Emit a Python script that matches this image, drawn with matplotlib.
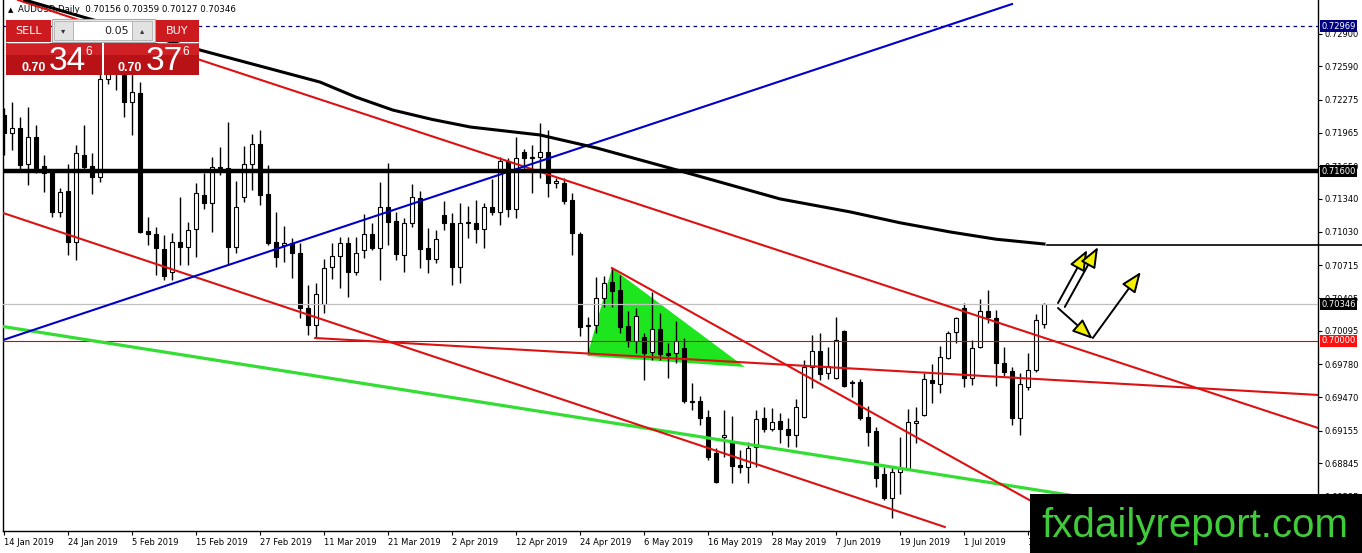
import matplotlib
matplotlib.use("Agg")
import matplotlib.pyplot as plt
from matplotlib import transforms
from matplotlib.patches import Rectangle, Polygon
import numpy as np

# AUDUSD daily bars, 14 Jan 2019 .. 15 Jul 2019
opens = [
    0.72131, 0.71961, 0.72009, 0.71669, 0.71924, 0.71650, 0.71584, 0.71217, 0.71415, 0.70934,
    0.71754, 0.71650, 0.71547, 0.72471, 0.72631, 0.72574, 0.72254, 0.72339, 0.71037, 0.71009,
    0.70868, 0.70651, 0.70934, 0.70886, 0.71056, 0.71377, 0.71301, 0.71631, 0.71631, 0.70886,
    0.71358, 0.71669, 0.71858, 0.71386, 0.70934, 0.70905, 0.70924, 0.70830, 0.70311, 0.70151,
    0.70349, 0.70698, 0.70802, 0.70924, 0.70651, 0.70858, 0.71009, 0.70877, 0.71264, 0.71132,
    0.70811, 0.71113, 0.71349, 0.70877, 0.70773, 0.71188, 0.71113, 0.70698, 0.71113, 0.71113,
    0.71056, 0.71264, 0.71217, 0.71697, 0.71245, 0.71782, 0.71735, 0.71735, 0.71782, 0.71490,
    0.71490, 0.71330, 0.71009, 0.70141, 0.70151, 0.70406, 0.70556, 0.70481, 0.70141, 0.70000,
    0.70038, 0.69896, 0.70113, 0.69887, 0.69887, 0.69934, 0.69434, 0.69434, 0.69283, 0.68944,
    0.69095, 0.69048, 0.68831, 0.68812, 0.69000, 0.69274, 0.69170, 0.69246, 0.69170, 0.69114,
    0.69283, 0.69755, 0.69906, 0.69698, 0.69651, 0.70094, 0.69613, 0.69613, 0.69283, 0.69151,
    0.68746, 0.68519, 0.68765, 0.68793, 0.69227, 0.69302, 0.69632, 0.69595, 0.69840, 0.70085,
    0.70311, 0.69651, 0.69943, 0.70283, 0.70217, 0.69793, 0.69717, 0.69274, 0.69566, 0.69727,
    0.70156]
highs = [
    0.72197, 0.72254, 0.72112, 0.72207, 0.72037, 0.71754, 0.71594, 0.71443, 0.71669, 0.71848,
    0.72037, 0.71773, 0.72537, 0.72933, 0.72791, 0.72744, 0.72969, 0.72442, 0.71169, 0.71075,
    0.71000, 0.71018, 0.71358, 0.71122, 0.71490, 0.71584, 0.71735, 0.71829, 0.72065, 0.71509,
    0.71839, 0.71952, 0.71990, 0.71660, 0.71217, 0.71084, 0.70971, 0.70924, 0.70528, 0.70547,
    0.70773, 0.70924, 0.70981, 0.70981, 0.70981, 0.71198, 0.71113, 0.71499, 0.71679, 0.71217,
    0.71160, 0.71481, 0.71415, 0.71066, 0.71047, 0.71320, 0.71207, 0.71301, 0.71273, 0.71330,
    0.71301, 0.71528, 0.71735, 0.71726, 0.71924, 0.71811, 0.71848, 0.72056, 0.71990, 0.71537,
    0.71537, 0.71396, 0.71028, 0.70226, 0.70604, 0.70613, 0.70688, 0.70622, 0.70283, 0.70311,
    0.70075, 0.70462, 0.70264, 0.69981, 0.70189, 0.70028, 0.69604, 0.69481, 0.69349, 0.68991,
    0.69349, 0.69293, 0.68972, 0.69048, 0.69349, 0.69378, 0.69368, 0.69321, 0.69274, 0.69453,
    0.69821, 0.70057, 0.70075, 0.69943, 0.70226, 0.70100, 0.69632, 0.69642, 0.69387, 0.69189,
    0.68812, 0.68812, 0.69095, 0.69359, 0.69378, 0.69698, 0.69783, 0.69953, 0.70094, 0.70226,
    0.70358, 0.70009, 0.70396, 0.70481, 0.70292, 0.69943, 0.69755, 0.69698, 0.69887, 0.70255,
    0.70359]
lows = [
    0.71754, 0.71801, 0.71613, 0.71471, 0.71584, 0.71405, 0.71169, 0.71169, 0.70811, 0.70764,
    0.71613, 0.71386, 0.71499, 0.72424, 0.72367, 0.72112, 0.71943, 0.71020, 0.70905, 0.70622,
    0.70575, 0.70575, 0.70717, 0.70717, 0.70792, 0.71245, 0.71028, 0.71565, 0.70717, 0.70830,
    0.71311, 0.71424, 0.71283, 0.70905, 0.70698, 0.70745, 0.70594, 0.70217, 0.70057, 0.70038,
    0.70264, 0.70585, 0.70500, 0.70415, 0.70622, 0.70783, 0.70858, 0.70575, 0.70905, 0.70764,
    0.70651, 0.71075, 0.70688, 0.70641, 0.70736, 0.71047, 0.70528, 0.70547, 0.70971, 0.70924,
    0.70877, 0.71188, 0.71094, 0.71169, 0.71160, 0.71613, 0.71396, 0.71537, 0.71358, 0.71443,
    0.71292, 0.70811, 0.70047, 0.69887, 0.70075, 0.70321, 0.70321, 0.70075, 0.69943, 0.69887,
    0.69632, 0.69821, 0.69821, 0.69651, 0.69793, 0.69415, 0.69349, 0.69208, 0.68878, 0.68661,
    0.68906, 0.68661, 0.68755, 0.68661, 0.68812, 0.69142, 0.69151, 0.69038, 0.69000, 0.69000,
    0.69270, 0.69557, 0.69632, 0.69642, 0.69640, 0.69566, 0.69472, 0.69255, 0.69010, 0.68623,
    0.68501, 0.68331, 0.68557, 0.68784, 0.69038, 0.69290, 0.69415, 0.69510, 0.69830, 0.69981,
    0.69566, 0.69585, 0.69935, 0.70170, 0.69576, 0.69670, 0.69208, 0.69114, 0.69538, 0.69708,
    0.70127]
closes = [
    0.71961, 0.72009, 0.71660, 0.71924, 0.71631, 0.71584, 0.71217, 0.71405, 0.70934, 0.71773,
    0.71641, 0.71547, 0.72471, 0.72631, 0.72574, 0.72254, 0.72348, 0.71028, 0.71009, 0.70877,
    0.70613, 0.70934, 0.70886, 0.71047, 0.71396, 0.71301, 0.71641, 0.71641, 0.70886, 0.71264,
    0.71669, 0.71858, 0.71377, 0.70924, 0.70792, 0.70924, 0.70830, 0.70311, 0.70151, 0.70443,
    0.70688, 0.70802, 0.70924, 0.70651, 0.70830, 0.71009, 0.70877, 0.71264, 0.71122, 0.70820,
    0.71113, 0.71358, 0.70868, 0.70773, 0.70962, 0.71113, 0.70698, 0.71113, 0.71120, 0.71056,
    0.71264, 0.71217, 0.71697, 0.71245, 0.71726, 0.71726, 0.71730, 0.71782, 0.71490, 0.71509,
    0.71320, 0.71018, 0.70132, 0.70151, 0.70406, 0.70547, 0.70472, 0.70132, 0.70009, 0.70236,
    0.69887, 0.70113, 0.69877, 0.69868, 0.70000, 0.69434, 0.69425, 0.69274, 0.68906, 0.68670,
    0.69114, 0.68821, 0.68812, 0.68991, 0.69264, 0.69170, 0.69236, 0.69170, 0.69114, 0.69378,
    0.69755, 0.69906, 0.69689, 0.69764, 0.70009, 0.69576, 0.69604, 0.69274, 0.69142, 0.68708,
    0.68519, 0.68765, 0.68802, 0.69236, 0.69246, 0.69642, 0.69604, 0.69849, 0.70075, 0.70217,
    0.69651, 0.69934, 0.70283, 0.70226, 0.69793, 0.69708, 0.69274, 0.69595, 0.69727, 0.70198,
    0.70346]

date_labels = ["14 Jan 2019", "24 Jan 2019", "5 Feb 2019", "15 Feb 2019", "27 Feb 2019",
               "11 Mar 2019", "21 Mar 2019", "2 Apr 2019", "12 Apr 2019", "24 Apr 2019",
               "6 May 2019", "16 May 2019", "28 May 2019", "7 Jun 2019", "19 Jun 2019",
               "1 Jul 2019", "11 Jul 2019"]
price_ticks = [0.72900, 0.72590, 0.72275, 0.71965, 0.71650, 0.71340, 0.71030, 0.70715,
               0.70405, 0.70095, 0.69780, 0.69470, 0.69155, 0.68845, 0.68535]

# moving average (bar index, price)
ma_x = [2.6, 9.9, 24.5, 39.5, 44.0, 48.6, 53.5, 58.3, 67.0, 74.1, 84.1, 89.5, 97.0,
        105.8, 112.0, 118.3, 124.0, 130.0]
ma_y = [0.73216, 0.73055, 0.72744, 0.72442, 0.72300, 0.72178, 0.72090, 0.72018, 0.71943,
        0.71820, 0.71613, 0.71499, 0.71340, 0.71217, 0.71115, 0.71028, 0.70960, 0.70915]

# drawn objects (bar index, price)
red_upper = [(1.75, 0.73216), (164.25, 0.69180)]
red_lower = [(-0.5, 0.71217), (117.6, 0.68246)]
red_flat = [(38.9, 0.70028), (164.25, 0.69491)]
red_steep = [(76.0, 0.70688), (134.9, 0.68218)]
blue_line = [(-0.125, 0.70009), (126.0, 0.73178)]
green_line = [(-0.5, 0.70141), (137.0, 0.68501)]
triangle = [(76.0, 0.70688), (72.9, 0.69859), (92.6, 0.69755)]
arrows = [((131.75, 0.70358), (135.4, 0.70858)),
          ((132.6, 0.70321), (136.75, 0.70886)),
          ((131.75, 0.70311), (136.1, 0.70019)),
          ((136.1, 0.70028), (142.1, 0.70651))]
level_black = 0.71600
level_709 = 0.70905
level_red = 0.70000
level_bid = 0.70346
level_high = 0.72969

W, H = 1362, 553
fig = plt.figure(figsize=(W / 100, H / 100), dpi=100)
ax = fig.add_axes([3 / W, 22 / H, 1315 / W, 531 / H])
ax.set_xlim(-0.125, 164.25)
ax.set_ylim(0.68208, 0.73216)

o = np.array(opens)
h = np.array(highs)
lo = np.array(lows)
c = np.array(closes)
idx = np.arange(len(o))
up = c >= o

# green triangle sits under the candles
ax.add_patch(Polygon(triangle, closed=True, facecolor="#1ee61e", edgecolor="none", zorder=1))

ax.vlines(idx, lo, h, color="black", lw=1, zorder=2)
body_bottom = np.minimum(o, c)
body_height = np.maximum(np.abs(c - o), 0.00004)
ax.bar(idx, body_height, 0.6, body_bottom, color=np.where(up, "white", "black"),
       edgecolor="black", linewidth=0.8, zorder=2.5)


def trend(pts, **kw):
    ax.plot([pts[0][0], pts[1][0]], [pts[0][1], pts[1][1]], **kw)


ax.axhline(level_high, color="#000080", lw=0.9, dashes=(3, 3), zorder=3)
ax.axhline(level_bid, color="#c0c0c0", lw=0.9, zorder=3)
ax.axhline(level_red, color="#e00000", lw=0.8, zorder=3)
trend(green_line, color="#33dd33", lw=2.3, zorder=3.2, solid_capstyle="butt")
trend(red_upper, color="#dd1111", lw=1.5, zorder=3.3)
trend(red_lower, color="#dd1111", lw=1.5, zorder=3.3)
trend(red_flat, color="#dd1111", lw=1.5, zorder=3.3)
trend(red_steep, color="#dd1111", lw=1.5, zorder=3.3)
trend(blue_line, color="#0000c8", lw=1.5, zorder=3.4)
ax.plot(ma_x, ma_y, color="black", lw=2.2, zorder=3.5, solid_joinstyle="round")
ax.axhline(level_black, color="black", lw=3.2, zorder=3.6)
ax.plot([130.4, 169.8], [level_709, level_709], color="black", lw=1.2, zorder=3.6, clip_on=False)

for tail, tip in arrows:
    ax.annotate("", xy=tip, xytext=tail, zorder=4,
                arrowprops=dict(arrowstyle="-|>,head_length=1.25,head_width=0.5",
                                facecolor="#f2f200", edgecolor="black", lw=1.4,
                                shrinkA=0, shrinkB=0))

# axes look like MT4
ax.spines["top"].set_visible(False)
for side in ("left", "right", "bottom"):
    ax.spines[side].set_linewidth(1)
ax.yaxis.tick_right()
ax.set_yticks(price_ticks)
ax.set_yticklabels([f"{p:.5f}" for p in price_ticks])
ax.set_xticks(np.arange(len(date_labels)) * 8)
ax.set_xticklabels(date_labels)
for lab in ax.get_xticklabels():
    lab.set_horizontalalignment("left")
ax.tick_params(axis="y", length=3, width=0.8, pad=1.5, labelsize=6)
ax.tick_params(axis="x", length=3, width=0.8, pad=2, labelsize=6)

tag = transforms.blended_transform_factory(ax.transAxes, ax.transData)
for val, bg in [(level_high, "#000080"), (level_black, "black"),
                (level_bid, "black"), (level_red, "#ff1010")]:
    ax.text(1.0025, val, f"{val:.5f}", transform=tag, ha="left", va="center",
            fontsize=6, color="white", zorder=10, clip_on=False,
            bbox=dict(boxstyle="square,pad=0.18", fc=bg, ec="none"))

ax.text(15 / 1315, 1 - 10 / 531, "AUDUSD,Daily  0.70156 0.70359 0.70127 0.70346",
        transform=ax.transAxes, fontsize=6.2, va="center", ha="left", zorder=1)
ax.text(5 / 1315, 1 - 10 / 531, "\u25b2", transform=ax.transAxes, fontsize=5,
        va="center", ha="left", zorder=1)

# one-click trading panel and watermark, drawn in pixel space
ui = fig.add_axes([0, 0, 1, 1], zorder=5)
ui.set_xlim(0, W)
ui.set_ylim(H, 0)
ui.axis("off")
ui.patch.set_alpha(0)

red = "#cc1a1e"
dark_red = "#b81216"
ui.add_patch(Rectangle((52, 19), 103, 23, fc="#ececec", ec="#a8a8a8", lw=0.8))
ui.add_patch(Rectangle((6, 20), 45, 22, fc=red, ec="none"))
ui.add_patch(Rectangle((156, 20), 43, 22, fc=red, ec="none"))
ui.add_patch(Rectangle((54, 21), 19, 19, fc="#e2e2e2", ec="#b0b0b0", lw=0.6))
ui.add_patch(Rectangle((73, 21), 59, 19, fc="white", ec="#b0b0b0", lw=0.6))
ui.add_patch(Rectangle((132, 21), 20, 19, fc="#e2e2e2", ec="#b0b0b0", lw=0.6))
ui.text(28.5, 31, "SELL", color="white", fontsize=8, ha="center", va="center")
ui.text(177.5, 31, "BUY", color="white", fontsize=8, ha="center", va="center")
ui.text(63.5, 30.5, "\u25be", fontsize=6, ha="center", va="center", color="#333333")
ui.text(142, 30.5, "\u25b4", fontsize=6, ha="center", va="center", color="#333333")
ui.text(129, 31, "0.05", fontsize=8, ha="right", va="center", color="#222222")
ui.plot([8, 49], [42.5, 42.5], color="#e86a6a", lw=0.6)
ui.plot([158, 197], [42.5, 42.5], color="#e86a6a", lw=0.6)

for x0, big, small_x, big_x, sup_x in [(6, "34", 21, 49, 85), (104, "37", 118, 146, 182)]:
    ui.add_patch(Rectangle((x0, 43), 96 if x0 == 6 else 95, 32, fc=dark_red, ec="none"))
    ui.add_patch(Rectangle((x0, 43), 96 if x0 == 6 else 95, 12, fc="#cf2025", ec="none"))
    ui.text(small_x, 71, "0.70", color="white", fontsize=9, fontweight="bold",
            ha="left", va="baseline", family="Liberation Sans")
    ui.text(big_x, 70, big, color="white", fontsize=24, ha="left", va="baseline",
            family="Liberation Sans")
    ui.text(sup_x, 55, "6", color="white", fontsize=8.5, ha="left", va="baseline",
            family="Liberation Sans")

ui.add_patch(Rectangle((1030, 494), W - 1030, H - 494, fc="black", ec="none"))
ui.text(1041, 537, "fxdailyreport.com", color="#40cc3a", fontsize=29,
        family="Liberation Sans", ha="left", va="baseline")

fig.savefig("out.png", dpi=100)
